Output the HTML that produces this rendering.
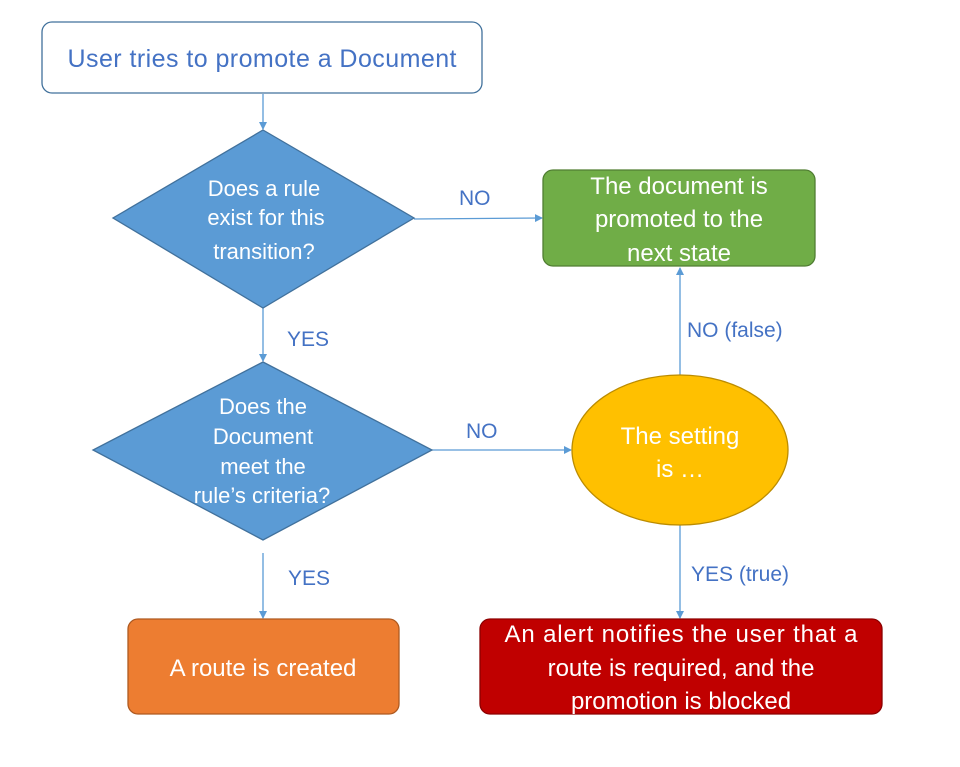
<!DOCTYPE html>
<html><head><style>body{margin:0;background:#fff}svg{display:block}text{font-family:"Liberation Sans",sans-serif}</style></head><body>
<svg width="960" height="767" viewBox="0 0 960 767">
<defs><marker id="a" markerWidth="8" markerHeight="8" refX="7" refY="4" orient="auto" markerUnits="userSpaceOnUse"><path d="M0,0 L8,4 L0,8z" fill="#5b9bd5"/></marker></defs>
<g stroke="#5b9bd5" stroke-width="1.3" fill="none" marker-end="url(#a)">
<line x1="263" y1="94" x2="263" y2="129"/>
<line x1="414" y1="219" x2="542" y2="218"/>
<line x1="263" y1="308" x2="263" y2="361"/>
<line x1="432" y1="450" x2="571" y2="450"/>
<line x1="680" y1="375" x2="680" y2="268"/>
<line x1="680" y1="525" x2="680" y2="618"/>
<line x1="263" y1="553" x2="263" y2="618"/>
</g>
<rect x="42" y="22" width="440" height="71" rx="10" fill="#fff" stroke="#41719c" stroke-width="1.3"/>
<text x="262" y="67" text-anchor="middle" font-size="25" textLength="389" fill="#4472c4">User tries to promote a Document</text>
<polygon points="263,130 414,218 263,308 113,218" fill="#5b9bd5" stroke="#41719c" stroke-width="1.3"/>
<g font-size="22" fill="#fff" text-anchor="middle">
<text x="264" y="196">Does a rule</text><text x="266" y="225">exist for this</text><text x="264" y="259">transition?</text>
</g>
<polygon points="263,362 432,450 263,540 93,450" fill="#5b9bd5" stroke="#41719c" stroke-width="1.3"/>
<g font-size="22" fill="#fff" text-anchor="middle">
<text x="263" y="414">Does the</text><text x="263" y="444">Document</text><text x="263" y="474">meet the</text><text x="262" y="503">rule’s criteria?</text>
</g>
<rect x="543" y="170" width="272" height="96" rx="10" fill="#70ad47" stroke="#507e32" stroke-width="1.3"/>
<g font-size="24" fill="#fff" text-anchor="middle"><text x="679" y="194">The document is</text><text x="679" y="227">promoted to the</text><text x="679" y="261">next state</text></g>
<ellipse cx="680" cy="450" rx="108" ry="75" fill="#ffc000" stroke="#bc8c00" stroke-width="1.3"/>
<g font-size="24" fill="#fff" text-anchor="middle"><text x="680" y="444">The setting</text><text x="680" y="477">is …</text></g>
<rect x="128" y="619" width="271" height="95" rx="10" fill="#ed7d31" stroke="#ae5a21" stroke-width="1.3"/>
<text x="263" y="676" font-size="24" fill="#fff" text-anchor="middle">A route is created</text>
<rect x="480" y="619" width="402" height="95" rx="10" fill="#c00000" stroke="#8c0000" stroke-width="1.3"/>
<g font-size="24" fill="#fff" text-anchor="middle"><text x="681" y="642" textLength="353">An alert notifies the user that a</text><text x="681" y="676">route is required, and the</text><text x="681" y="709">promotion is blocked</text></g>
<g font-size="21" fill="#4472c4">
<text x="459" y="205">NO</text><text x="287" y="346">YES</text><text x="466" y="438">NO</text><text x="687" y="337">NO (false)</text><text x="691" y="581">YES (true)</text><text x="288" y="585">YES</text>
</g>
</svg></body></html>
